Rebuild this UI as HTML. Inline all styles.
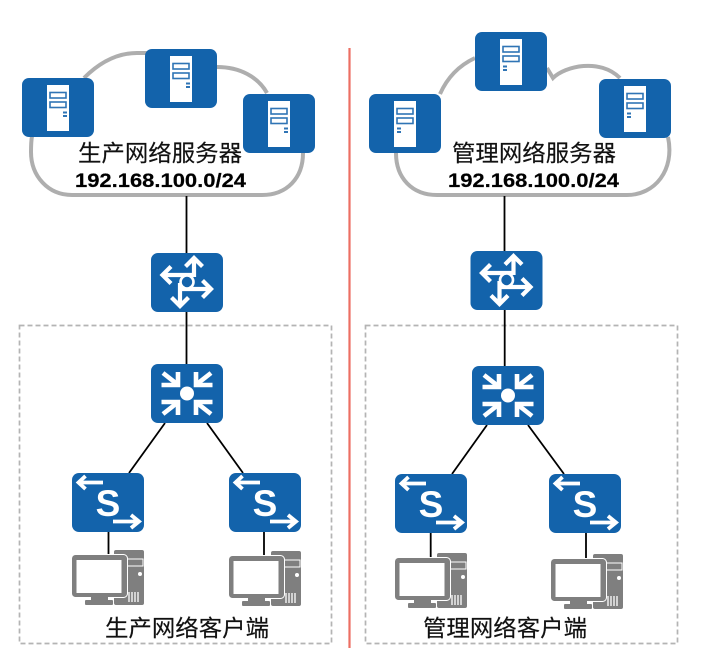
<!DOCTYPE html>
<html><head><meta charset="utf-8">
<style>
html,body{margin:0;padding:0;background:#fff;width:708px;height:657px;overflow:hidden}
svg{display:block}
.cn{font-family:"Liberation Sans","Noto Sans CJK SC",sans-serif;font-size:23px;fill:#111;stroke:#111;stroke-width:.15}
.ip{font-family:"Liberation Sans",sans-serif;font-weight:bold;font-size:19px;fill:#000;stroke:#000;stroke-width:.2}
.s{font-family:"Liberation Sans",sans-serif;font-weight:bold;font-size:37px;fill:#fff}
</style></head><body>
<svg width="708" height="657" viewBox="0 0 708 657" xmlns="http://www.w3.org/2000/svg">
<defs>
<g id="srvBase">
<rect width="72" height="59" rx="7" fill="#1363ab"/>
<rect x="25" y="7" width="22" height="46" fill="#fff"/>
<rect x="28" y="14.500" width="16" height="5.500" fill="#fff" stroke="#2f74b5" stroke-width="1.600"/>
<rect x="28" y="24" width="16" height="5.500" fill="#fff" stroke="#2f74b5" stroke-width="1.600"/>
</g>
<g id="srvR"><use href="#srvBase"/><rect x="41" y="33.500" width="4" height="2" fill="#2f74b5"/><rect x="41" y="37" width="4" height="2" fill="#2f74b5"/></g>
<g id="srvL"><use href="#srvBase"/><rect x="28" y="33.500" width="4" height="2" fill="#2f74b5"/><rect x="28" y="37" width="4" height="2" fill="#2f74b5"/></g>
<g id="router">
<rect width="72" height="59" rx="7" fill="#1363ab"/>
<g fill="none" stroke="#fff" stroke-width="4.200">
<path d="M43 24V6M34.500 13.500L43 5L51.500 13.500"/>
<path d="M43 22H13M20 13.500L11.500 22L20 30.500"/>
<path d="M29 30V52M20.500 44.500L29 53L37.500 44.500"/>
<path d="M29 36H59M51.500 27.500L60 36L51.500 44.500"/>
<circle cx="36" cy="29" r="6.500" fill="#1363ab" stroke-width="2.600"/>
</g>
</g>
<g id="corner" fill="none" stroke="#fff" stroke-width="4.600"><path d="M27 8V21H10.500"/><path d="M12 9L26 20"/></g>
<g id="core">
<rect width="72" height="59" rx="7" fill="#1363ab"/>
<circle cx="36" cy="29.500" r="7" fill="#fff"/>
<use href="#corner"/>
<use href="#corner" transform="translate(72,0) scale(-1,1)"/>
<use href="#corner" transform="translate(0,59) scale(1,-1)"/>
<use href="#corner" transform="translate(72,59) scale(-1,-1)"/>
</g>
<g id="sw">
<rect width="72" height="59" rx="7" fill="#1363ab"/>
<g fill="none" stroke="#fff" stroke-width="3.800">
<path d="M31 9.500H7M13.500 3L6.500 9.500L13.500 16"/>
<path d="M41 48.500H66M59 42L67 48.500L59 55"/>
</g>
<text class="s" x="36" y="43" text-anchor="middle">S</text>
</g>
<g id="pc">
<rect x="42" y="0" width="30" height="55" rx="2" fill="#7f7f7f"/>
<rect x="54" y="9" width="17" height="7" fill="none" stroke="#fff" stroke-width="1"/>
<circle cx="68" cy="24" r="2" fill="#fff"/>
<g stroke="#fff" stroke-width="1.300"><path d="M57 42V52M60 42V52M63 42V52M66 42V52"/></g>
<rect x="-0.500" y="4.500" width="56" height="43" rx="4" fill="#7f7f7f" stroke="#fff" stroke-width="1"/>
<rect x="4.500" y="10" width="45" height="33" fill="#fff"/>
<rect x="19" y="47" width="17" height="4" fill="#7f7f7f"/>
<rect x="13" y="50" width="28" height="5" rx="1" fill="#7f7f7f"/>
</g>
</defs>

<!-- clouds -->
<path d="M84 78C100 62 118 53 137 53H150M217 67C240 67 258 77 267 93M303 153C303 178 287 195 262 195H72C48 195 31 176 31 152C31 146 31 142 32 136" fill="none" stroke="#aeaeae" stroke-width="4"/>
<path d="M440 94C448 76 460 65 475 58M547 68L553 78C565 66 600 58 620 78M668 137C675 170 655 195 627 195H437C412 195 396 178 396 153" fill="none" stroke="#aeaeae" stroke-width="4"/>

<!-- dashed boxes -->
<rect x="19.500" y="325.500" width="312" height="318" fill="none" stroke="#b4b4b4" stroke-width="1.700" stroke-dasharray="5 3"/>
<rect x="365.500" y="325.500" width="312" height="318" fill="none" stroke="#b4b4b4" stroke-width="1.700" stroke-dasharray="5 3"/>

<!-- divider -->
<line x1="349.500" y1="48" x2="349.500" y2="648" stroke="#ec6f63" stroke-width="2.200"/>

<!-- connectors -->
<g stroke="#000" stroke-width="1.800" fill="none">
<path d="M186.500 196V253M186.500 312V364M165 423L129 473M207 423L243 473M108.500 532V555M264 532V556"/>
<path d="M504.500 196V251M504.700 310V366M487 425L452 474M528 425L564 474M430.700 533V558M586 533V559"/>
</g>

<!-- nodes -->
<use href="#srvR" x="22" y="78"/>
<use href="#srvR" x="145" y="49"/>
<use href="#srvR" x="243" y="94"/>
<use href="#srvL" x="369" y="94"/>
<use href="#srvL" x="475" y="32"/>
<use href="#srvL" x="599" y="79"/>

<use href="#router" x="151" y="253"/>
<use href="#router" x="470.500" y="251"/>
<use href="#core" x="151" y="364"/>
<use href="#core" x="472" y="366"/>
<use href="#sw" x="72" y="473"/>
<use href="#sw" x="229" y="473"/>
<use href="#sw" x="395" y="474"/>
<use href="#sw" x="549" y="474"/>
<use href="#pc" x="72" y="550"/>
<use href="#pc" x="229" y="551"/>
<use href="#pc" x="395" y="553"/>
<use href="#pc" x="551" y="554"/>

<!-- labels -->
<text class="cn" x="78" y="161" textLength="164" lengthAdjust="spacingAndGlyphs">生产网络服务器</text>
<text class="ip" x="75" y="187" textLength="171" lengthAdjust="spacingAndGlyphs">192.168.100.0/24</text>
<text class="cn" x="452" y="161" textLength="164" lengthAdjust="spacingAndGlyphs">管理网络服务器</text>
<text class="ip" x="448" y="187" textLength="171" lengthAdjust="spacingAndGlyphs">192.168.100.0/24</text>
<text class="cn" x="105" y="636" textLength="164" lengthAdjust="spacingAndGlyphs">生产网络客户端</text>
<text class="cn" x="423" y="636" textLength="164" lengthAdjust="spacingAndGlyphs">管理网络客户端</text>
</svg>
</body></html>
